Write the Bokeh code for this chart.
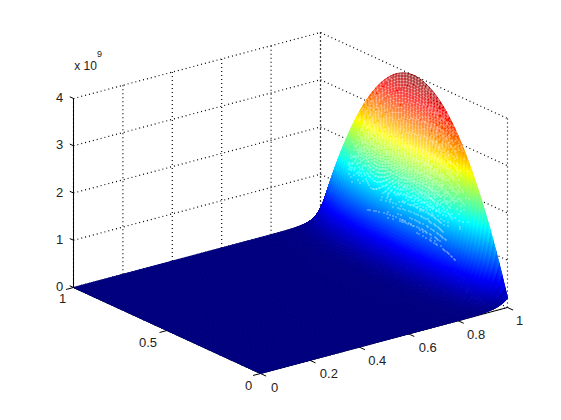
import numpy as np
from bokeh.plotting import figure
from bokeh.models import Range1d
from bokeh.core.properties import value
from bokeh.embed import file_html
from bokeh.resources import INLINE

# --- values ----------------------------------------------------------------
# share of the peak height along y, at the x = 1 edge (outline of the hump)
y_pos = [i / 64 for i in range(65)]
y_share = [.050,.108,.165,.220,.273,.324,.373,.420,.466,.509,.551,.591,.629,.665,.699,.732,
           .762,.791,.818,.843,.866,.888,.907,.925,.941,.955,.967,.977,.985,.992,.996,.999,
           1.000,
           .999,.996,.992,.985,.977,.967,.955,.941,.925,.907,.888,.866,.843,.818,.791,.762,
           .732,.699,.665,.629,.591,.551,.509,.466,.420,.373,.324,.273,.220,.165,.108,.050]
# mesh rows near x = 1 (the mesh lines spread apart here and leave white gaps)
x_open = [1.0000,.9994,.9987,.9981,.9974,.9968,.9962,.9955,.9949,.9942,.9936,.9930,.9923,.9917,.9910,
          .9904,.9898,.9891,.9885,.9878,.9872,.9866,.9859,.9853,.9846,.9840,.9834,.9827,.9821,.9814,
          .9808,.9802,.9795,.9789,.9782,.9776,.9770,.9763,.9757,.9750,.9744,.9738,.9731,.9725,.9718,
          .9712,.9706,.9699,.9693,.9686,.9680,.9674,.9667,.9661,.9654,.9648,.9642,.9635,.9629,.9622,.9616,
          .9610,.9603,.9597,.9590,.9584,.9578,.9571,.9565,.9558,.9552,.9546,.9539,.9533,.9526,.9520,
          .9514,.9507,.9501,.9494,.9488,.9482,.9475,.9469,.9462,.9456,
          .9450,.9443,.9437,.9430,.9424,.9418,.9411,.9405,.9398,.9392,.9386,.9379,.9373]
x_share_open = [1.000,.984,.968,.953,.938,.922,.908,.893,.879,.865,.851,.837,.824,.811,.798,
                .785,.773,.760,.748,.736,.724,.713,.701,.690,.679,.668,.658,.647,.637,.627,
                .617,.607,.597,.588,.578,.569,.560,.551,.542,.534,.525,.517,.508,.500,.492,
                .484,.477,.469,.461,.454,.447,.440,.433,.426,.419,.412,.406,.399,.393,.387,.380,
                .374,.368,.362,.356,.351,.345,.340,.334,.329,.324,.318,.313,.308,.303,.298,
                .294,.289,.284,.280,.275,.271,.266,.262,.254,.250,
                .246,.242,.238,.234,.230,.226,.222,.218,.215,.211,.208,.204,.201]
# rows further down the slope, where the surface looks solid
x_solid = [.9357,.9327,.9293,
           .9264,.9233,.9199,.9162,.9121,.9082,.9039,.8990,.8935,.8871,.8810,.8746,.8667,.8585,
           .8496,.8380,.8244,.8090,.7926,.7585,.7000,.4000,.0000]
x_share_solid = [.190,.175,.160,
                 .148,.136,.124,.112,.100,.090,.080,.070,.060,.050,.042,.035,.028,.022,
                 .017,.012,.008,.005,.003,.001,.0003,.0001,.0000]
z_peak = 4e9

x_ticks = [0, .2, .4, .6, .8, 1]
x_tick_labels = ["0", "0.2", "0.4", "0.6", "0.8", "1"]
y_ticks = [0, .5, 1]
y_tick_labels = ["0", "0.5", "1"]
z_ticks = [0, 1e9, 2e9, 3e9, 4e9]
z_tick_labels = ["0", "1", "2", "3", "4"]


# --- view -------------------------------------------------------------------
def project(x, y, z):
    x, y, z = np.asarray(x, float), np.asarray(y, float), np.asarray(z, float)
    return 260 + 247 * x - 187 * y, 373 - 66 * x - 86 * y - 189 * z / 4e9


def jet(t):
    t = np.clip(t, 0, 1)
    r = np.clip(1.5 - abs(4 * t - 3), 0, 1)
    g = np.clip(1.5 - abs(4 * t - 2), 0, 1)
    b = np.clip(1.5 - abs(4 * t - 1), 0, 1)
    return "#%02x%02x%02x" % (int(r * 255), int(g * 255), int(b * 255))


W, H = 545, 404
p = figure(width=W, height=H, output_backend="svg", toolbar_location=None,
           x_range=Range1d(0, W), y_range=Range1d(H, 0),
           min_border=0, outline_line_color=None, background_fill_color="white")
p.axis.visible = False
p.grid.visible = False


def seg(points, color="black", dash="solid", width=1.0):
    x0, y0, x1, y1 = [], [], [], []
    for a, b in points:
        ax, ay = project(*a)
        bx, by = project(*b)
        x0.append(float(ax)); y0.append(float(ay)); x1.append(float(bx)); y1.append(float(by))
    p.segment(x0, y0, x1, y1, line_color=color, line_dash=dash, line_width=width)


top = z_ticks[-1]
# dotted grid on the floor and the two back walls
grid = []
for x in x_ticks:
    grid.append(((x, 1, 0), (x, 1, top)))
    grid.append(((x, 0, 0), (x, 1, 0)))
for y in y_ticks:
    grid.append(((1, y, 0), (1, y, top)))
    grid.append(((0, y, 0), (1, y, 0)))
for z in z_ticks[1:]:
    grid.append(((0, 1, z), (1, 1, z)))
    grid.append(((1, 1, z), (1, 0, z)))
seg(grid, dash="1 3", width=1.2)

# solid axes and ticks
seg([((0, 1, 0), (0, 1, top)), ((0, 0, 0), (1, 0, 0)), ((0, 0, 0), (0, 1, 0))])
ticks = [((x, 0, 0), (x, -.03, 0)) for x in x_ticks]
ticks += [((0, y, 0), (-.03, y, 0)) for y in y_ticks]
ticks += [((0, 1, z), (0, 1.02, z)) for z in z_ticks]
seg(ticks)

Y = np.array(y_pos)
S = np.array(y_share)

# the surface's coloured cells, far rows are painted first
rows_x = x_open + x_solid
rows_f = x_share_open + x_share_solid
xs, ys, cols = [], [], []
for i in range(len(rows_x) - 1):
    for j in range(64):
        z00 = z_peak * rows_f[i] * S[j]
        z01 = z_peak * rows_f[i] * S[j + 1]
        z10 = z_peak * rows_f[i + 1] * S[j]
        z11 = z_peak * rows_f[i + 1] * S[j + 1]
        qx, qy = project([rows_x[i], rows_x[i], rows_x[i + 1], rows_x[i + 1]],
                         [Y[j], Y[j + 1], Y[j + 1], Y[j]], [z00, z01, z11, z10])
        xs.append(qx.tolist()); ys.append(qy.tolist())
        cols.append(jet((z00 + z01 + z10 + z11) / 4 / z_peak))
p.patches(xs, ys, fill_color=cols, line_color=cols, line_width=1)

# white gaps: pixels which the one-pixel mesh lines of the open rows leave empty
covered = np.zeros((H, W), bool)


def rasterize(px, py):
    for k in range(len(px) - 1):
        n = int(max(abs(px[k + 1] - px[k]), abs(py[k + 1] - py[k]))) + 1
        t = np.linspace(0, 1, n + 1)
        ix = np.floor(px[k] + (px[k + 1] - px[k]) * t).astype(int)
        iy = np.floor(py[k] + (py[k + 1] - py[k]) * t).astype(int)
        covered[iy, ix] = True


for i in range(len(x_open)):
    rasterize(*project(np.full(65, x_open[i]), Y, z_peak * x_share_open[i] * S))
for j in range(65):
    rasterize(*project(x_open, np.full(len(x_open), Y[j]), z_peak * np.array(x_share_open) * S[j]))

last = x_share_open.index(.230)   # the gaps stop at about this height
top_x, top_y = project(np.full(65, x_open[0]), Y, z_peak * x_share_open[0] * S)
low_x, low_y = project(np.full(65, x_open[last]), Y, z_peak * x_share_open[last] * S)
hole_x, hole_y = [], []
left, right = project(.975, .82, 0)[0], project(.975, .17, 0)[0]
for col in range(int(left), int(right)):
    upper = np.interp(col + .5, top_x[::-1], top_y[::-1])
    lower = np.interp(col + .5, low_x[::-1], low_y[::-1])
    for row in range(int(upper) + 1, int(lower)):
        if not covered[row, col]:
            hole_x.append(col + .5)
            hole_y.append(row + .5)
p.rect(hole_x, hole_y, width=1, height=1, fill_color="white", line_color=None)


def labels(points, texts, dx, dy, size="13px", color="#222222"):
    px = [float(project(*q)[0]) for q in points]
    py = [float(project(*q)[1]) for q in points]
    p.text(px, py, text=texts, x_offset=dx, y_offset=dy, text_font=value("Liberation Sans"),
           text_font_size=size, text_color=color, text_align="center", text_baseline="middle")


labels([(x, 0, 0) for x in x_ticks], x_tick_labels, [14, 19, 18, 19, 18, 12], [14, 13, 13, 14, 14, 13])
labels([(0, y, 0) for y in y_ticks], y_tick_labels, [-12, -19, -11], [12, 12, 11])
labels([(0, 1, z) for z in z_ticks], z_tick_labels, [-14] * 5, [-1] * 5)
labels([(0, 1, top)], ["x 10"], [12], [-33], size="12px")
labels([(0, 1, top)], ["9"], [26], [-45], size="9px")

open("out.html", "w").write(file_html(p, INLINE))
